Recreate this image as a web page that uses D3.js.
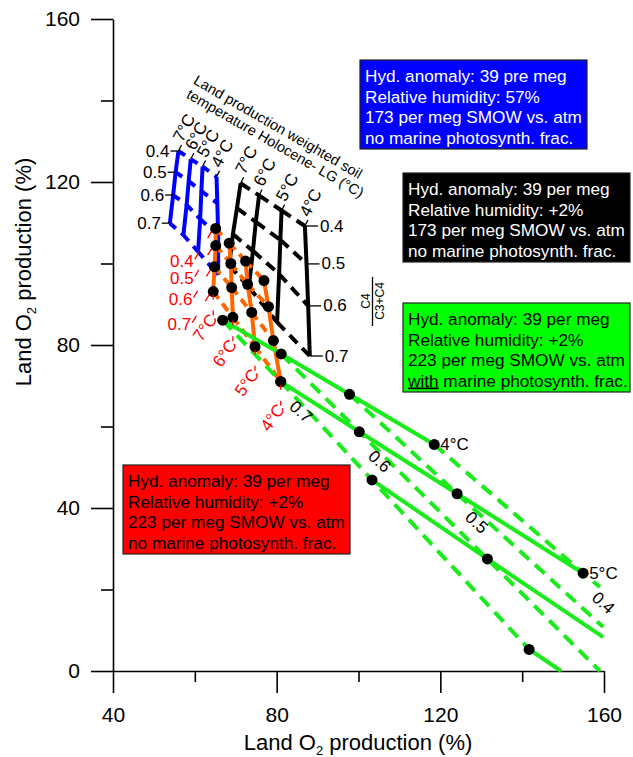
<!DOCTYPE html>
<html>
<head>
<meta charset="utf-8">
<script src="https://d3js.org/d3.v7.min.js"></script>
<style>
body {margin:0; background:white;}
svg text {font-family: "Liberation Sans", Arial, sans-serif;}
</style>
</head>
<body>
<svg width="633" height="757"></svg>
<script>
// C4/(C3+C4) fraction and soil temperature of every grid
var c4 = [0.4, 0.5, 0.6, 0.7];
var temps = ["7°C", "6°C", "5°C", "4°C"];

// [temperature][c4] -> [land O2 x, land O2 y]
var blueGrid = [
  [[56.0,127.6],[55.3,122.4],[54.7,116.8],[53.9,109.9]],
  [[59.0,125.6],[58.5,120.2],[58.0,114.4],[57.2,107.0]],
  [[61.9,123.8],[61.6,117.8],[61.3,110.9],[60.8,102.9]],
  [[65.3,121.3],[65.5,114.8],[65.7,107.0],[65.7,97.2]]
];
var blackGrid = [
  [[71.2,119.7],[70.3,113.6],[69.3,107.2],[68.4,99.6]],
  [[75.7,116.7],[74.9,110.2],[74.2,103.1],[73.2,94.2]],
  [[81.2,113.0],[80.9,105.8],[80.6,97.4],[80.1,85.6]],
  [[86.9,109.2],[87.3,99.9],[87.7,89.6],[88.1,77.3]]
];
var orangeGrid = [
  [[65.1,108.6],[65.1,104.4],[64.8,99.2],[64.5,93.1]],
  [[68.4,105.0],[68.8,100.0],[69.0,94.1],[69.3,86.8]],
  [[72.4,100.6],[72.9,94.9],[73.9,88.0],[74.7,79.6]],
  [[76.9,95.8],[78.0,89.4],[79.2,81.1],[81.0,71.0]]
];

// green: temperatures 4..7 °C, c4 0.7 -> 0.4 (points off the chart are missing)
var greenTemps = ["4°C", "5°C", "6°C", "7°C"];
var greenC4 = ["0.7", "0.6", "0.5", "0.4"];
var greenGrid = [
  [[66.8,86.1],[81.1,77.8],[97.8,67.9],[118.5,55.6]],
  [[81.0,71.0],[100.2,58.7],[124.1,43.5],[154.9,24.0]],
  [[103.3,46.9],[131.5,27.5]],
  [[141.7,5.3]]
];
// where the green lines leave the frame
var greenTempEnds = [null, null, [159.8,8.3], [149.5,0]];
var greenC4Ends = [null, [159.0,0], [159.8,10.8], [159.0,20.6]];
var greenC4LabelAt = [[85.9,63.6],[105.1,51.4],[128.8,36.4],[159.8,16.7]];

var xMajor = [40, 80, 120, 160], xMinor = [60, 100, 140];
var yMajor = [0, 40, 80, 120, 160], yMinor = [20, 60, 100, 140];

var boxes = [
  {x:360, y:60, fill:"#0000ff", color:"white",
   lines:["Hyd. anomaly: 39 pre meg","Relative humidity: 57%","173 per meg SMOW vs. atm","no marine photosynth. frac."]},
  {x:403, y:173, fill:"#000000", color:"white",
   lines:["Hyd. anomaly: 39 per meg","Relative humidity: +2%","173 per meg SMOW vs. atm","no marine photosynth. frac."]},
  {x:403, y:303, fill:"#00ff00", color:"black",
   lines:["Hyd. anomaly: 39 per meg","Relative humidity: +2%","223 per meg SMOW vs. atm","with| marine photosynth. frac."]},
  {x:123, y:465, fill:"#ff0000", color:"black",
   lines:["Hyd. anomaly: 39 per meg","Relative humidity: +2%","223 per meg SMOW vs. atm","no marine photosynth. frac."]}
];

var svg = d3.select("svg");
var font = '"Liberation Sans", Arial, sans-serif';
var x = d3.scaleLinear().domain([40,160]).range([113,604]);
var y = d3.scaleLinear().domain([0,160]).range([671,19]);
var line = d3.line().x(function(d){ return x(d[0]); }).y(function(d){ return y(d[1]); });
var green = "#1aeb1a", orange = "#ff6600";

// axes
function axisStyle(g) {
  g.attr("font-family", font).attr("font-size", 21);
  g.select(".domain").attr("stroke-width", 1.6);
  g.selectAll(".tick line").attr("stroke-width", 1.6);
  g.selectAll(".tick text").attr("fill", "black");
}
svg.append("g").attr("transform", "translate(113,0)")
  .call(d3.axisLeft(y).tickValues(yMajor).tickSize(22).tickSizeOuter(0).tickPadding(11))
  .call(axisStyle);
svg.append("g").attr("transform", "translate(113,0)")
  .call(d3.axisLeft(y).tickValues(yMinor).tickSize(12).tickFormat(""))
  .call(axisStyle).select(".domain").remove();
svg.append("g").attr("transform", "translate(0,671)")
  .call(d3.axisBottom(x).tickValues(xMajor).tickSize(22).tickSizeOuter(0).tickPadding(14))
  .call(axisStyle);
svg.append("g").attr("transform", "translate(0,671)")
  .call(d3.axisBottom(x).tickValues(xMinor).tickSize(11).tickFormat(""))
  .call(axisStyle).select(".domain").remove();

function o2Title(t) {
  t.attr("font-size", 22).attr("text-anchor", "middle");
  t.append("tspan").text("Land O");
  t.append("tspan").text("2").attr("font-size", 13).attr("dy", 5);
  t.append("tspan").text(" production (%)").attr("dy", -5);
}
svg.append("text").attr("x", 358).attr("y", 750).call(o2Title);
svg.append("text").attr("transform", "translate(31,272) rotate(-90)").call(o2Title);

// grids: solid = one temperature, dashed = one C4 fraction
function drawGrid(grid, color, dash, width) {
  grid.forEach(function(col) {
    svg.append("path").attr("d", line(col)).attr("fill", "none")
      .attr("stroke", color).attr("stroke-width", width);
  });
  c4.forEach(function(c, j) {
    for (var t = 0; t < grid.length - 1; t++) {
      svg.append("path").attr("d", line([grid[t][j], grid[t+1][j]])).attr("fill", "none")
        .attr("stroke", color).attr("stroke-width", width).attr("stroke-dasharray", dash);
    }
  });
}
drawGrid(blueGrid, "#0000ff", "8,7", 4);
drawGrid(blackGrid, "black", "11,7", 4);
drawGrid(orangeGrid, orange, "9,6", 4);

// green
greenGrid.forEach(function(col, t) {
  var pts = col.slice();
  if (greenTempEnds[t]) pts.push(greenTempEnds[t]);
  svg.append("path").attr("d", line(pts)).attr("fill", "none")
    .attr("stroke", green).attr("stroke-width", 4);
});
greenC4.forEach(function(c, j) {
  var pts = [];
  greenGrid.forEach(function(col) { if (col[j]) pts.push(col[j]); });
  if (greenC4Ends[j]) pts.push(greenC4Ends[j]);
  svg.append("path").attr("d", line(pts)).attr("fill", "none")
    .attr("stroke", green).attr("stroke-width", 4).attr("stroke-dasharray", "13,8");
});

// dots
var dots = [];
orangeGrid.forEach(function(col) { dots = dots.concat(col); });
greenGrid.forEach(function(col) { dots = dots.concat(col); });
svg.selectAll(".dot").data(dots).enter().append("circle")
  .attr("cx", function(d){ return x(d[0]); })
  .attr("cy", function(d){ return y(d[1]); })
  .attr("r", 5.5).attr("fill", "black");

function px(d) { return [x(d[0]), y(d[1])]; }
function seg(a, b, color, dash) {
  svg.append("line").attr("x1", a[0]).attr("y1", a[1]).attr("x2", b[0]).attr("y2", b[1])
    .attr("stroke", color).attr("stroke-width", 1.3).attr("stroke-dasharray", dash || null);
}
function label(xx, yy, txt, opts) {
  var t = svg.append("text").attr("font-size", opts.size || 17).attr("fill", opts.color || "black")
    .attr("text-anchor", opts.anchor || "start").text(txt);
  if (opts.central) t.attr("dominant-baseline", "central");
  t.attr("transform", "translate(" + xx + "," + yy + ") rotate(" + (opts.rot || 0) + ")");
  return t;
}

// temperature labels on top of blue and black grids
[blueGrid, blackGrid].forEach(function(grid) {
  grid.forEach(function(col, t) {
    var p = px(col[0]);
    seg(p, [p[0]+3, p[1]-6], "black");
    label(p[0]+4, p[1]-8, temps[t], {rot:-62});
  });
});
// c4 labels: blue to the left, black to the right
blueGrid[0].forEach(function(d, j) {
  var p = px(d);
  seg([p[0]-8, p[1]], p, "black");
  label(p[0]-9, p[1], c4[j].toFixed(1), {anchor:"end", central:true});
});
blackGrid[3].forEach(function(d, j) {
  var p = px(d);
  seg(p, [p[0]+13, p[1]], "black");
  label(p[0]+15, p[1], c4[j].toFixed(1), {central:true});
});
// red labels of the orange grid
orangeGrid[0].forEach(function(d, j) {
  var p = px(d);
  seg([p[0]-21, p[1]+31], [p[0]-4, p[1]+3], "red", "8,17,8");
  label(p[0]-22, p[1]+33, c4[j].toFixed(1), {anchor:"end", central:true, color:"red"});
});
orangeGrid.forEach(function(col, t) {
  var p = px(col[3]);
  seg([p[0], p[1]+24], [p[0], p[1]+3], "red", "5,11,5");
  label(p[0]-8, p[1]+36, temps[t], {anchor:"middle", central:true, color:"red", rot:-55});
});
// green labels
[0, 1].forEach(function(t) {
  var p = px(greenGrid[t][3]);
  label(p[0]+6, p[1], greenTemps[t], {central:true});
});
greenC4.forEach(function(c, j) {
  var p = px(greenC4LabelAt[j]);
  label(p[0], p[1], c, {anchor:"middle", central:true, rot:42});
});

// C4 / (C3+C4)
label(366, 301, "C4", {anchor:"middle", central:true, rot:-90, size:12});
label(380, 301, "C3+C4", {anchor:"middle", central:true, rot:-90, size:12});
seg([372.5, 277], [372.5, 326], "black");

// soil temperature title
label(195, 79, "Land production weighted soil", {central:true, rot:30, size:14.5});
label(188, 93, "temperature Holocene- LG (°C)", {central:true, rot:30, size:14.5});

// scenario boxes
boxes.forEach(function(b) {
  svg.append("rect").attr("x", b.x).attr("y", b.y).attr("width", 227).attr("height", 89)
    .attr("fill", b.fill).attr("stroke", "#222").attr("stroke-width", 1.2);
  b.lines.forEach(function(s, i) {
    var t = svg.append("text").attr("x", b.x + 5).attr("y", b.y + 22 + i * 20.5)
      .attr("font-size", 17.2).attr("fill", b.color);
    var parts = s.split("|");
    if (parts.length > 1) {
      t.append("tspan").text(parts[0]).style("text-decoration", "underline");
      t.append("tspan").text(parts[1]);
    } else {
      t.text(s);
    }
  });
});
</script>
</body>
</html>
